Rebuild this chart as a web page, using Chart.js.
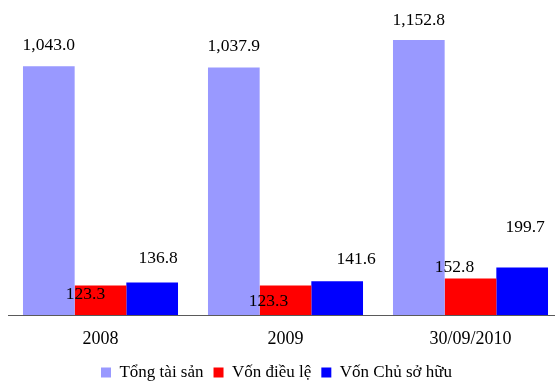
<!DOCTYPE html>
<html>
<head>
<meta charset="utf-8">
<script src="https://cdn.jsdelivr.net/npm/chart.js@4/dist/chart.umd.min.js"></script>
<style>
  html, body { margin: 0; padding: 0; background: #fff; overflow: hidden; width: 555px; height: 383px; }
  #wrap { position: absolute; left: -10px; top: 0; width: 573px; height: 391px; }
</style>
</head>
<body>
<div id="wrap"><canvas id="chart" width="573" height="391"></canvas></div>
<script>
// Categories and series (tỷ đồng)
const categories = ['2008', '2009', '30/09/2010'];
const tongTaiSan = [1043.0, 1037.9, 1152.8];
const vonDieuLe = [123.3, 123.3, 152.8];
const vonChuSoHuu = [136.8, 141.6, 199.7];
const seriesNames = ['Tổng tài sản', 'Vốn điều lệ', 'Vốn Chủ sở hữu'];

const FONT = "'Liberation Serif', 'Times New Roman', serif";

// Hand-placed nudges for the value labels (dx, dy in px), per series and category
const labelNudges = [
  [[0, 0], [0, 0], [0, 1]],
  [[-15, 30], [-17, 37], [-16, 10]],
  [[6, -3], [19, -1], [3, -19]]
];

const valueLabels = {
  id: 'valueLabels',
  afterDatasetsDraw(chart) {
    const ctx = chart.ctx;
    ctx.save();
    ctx.font = '17.5px ' + FONT;
    ctx.fillStyle = '#000';
    ctx.textAlign = 'center';
    ctx.textBaseline = 'middle';
    chart.data.datasets.forEach((ds, di) => {
      const meta = chart.getDatasetMeta(di);
      meta.data.forEach((bar, i) => {
        const v = ds.data[i];
        const txt = v.toLocaleString('en-US', { minimumFractionDigits: 1, maximumFractionDigits: 1 });
        const n = labelNudges[di][i];
        ctx.fillText(txt, bar.x + n[0], bar.y - 21 + n[1]);
      });
    });
    ctx.restore();
  }
};

new Chart(document.getElementById('chart'), {
  type: 'bar',
  data: {
    labels: categories,
    datasets: [
      { label: seriesNames[0], data: tongTaiSan, backgroundColor: '#9999FF' },
      { label: seriesNames[1], data: vonDieuLe, backgroundColor: '#FF0000' },
      { label: seriesNames[2], data: vonChuSoHuu, backgroundColor: '#0000FF' }
    ]
  },
  options: {
    responsive: false,
    animation: false,
    devicePixelRatio: 1,
    layout: { padding: { top: 5, left: 0, right: 0, bottom: 0 } },
    datasets: {
      bar: { categoryPercentage: 0.838, barPercentage: 1.0, borderWidth: 0 }
    },
    scales: {
      x: {
        offset: true,
        grid: { display: false, drawTicks: false },
        border: { display: true, color: '#5a5a5a', width: 1 },
        ticks: { color: '#000', padding: 13, font: { family: FONT, size: 18 } },
        afterFit(scale) { scale.height = 39; }
      },
      y: {
        min: 0,
        max: 1300,
        grid: { display: false, drawTicks: false },
        border: { display: false },
        ticks: { display: false },
        afterFit(scale) { scale.width = 18; }
      }
    },
    plugins: {
      legend: {
        position: 'bottom',
        labels: {
          boxWidth: 10,
          boxHeight: 10,
          padding: 10,
          color: '#000',
          font: { family: FONT, size: 17 }
        }
      },
      tooltip: { enabled: false }
    }
  },
  plugins: [valueLabels]
});
</script>
</body>
</html>
